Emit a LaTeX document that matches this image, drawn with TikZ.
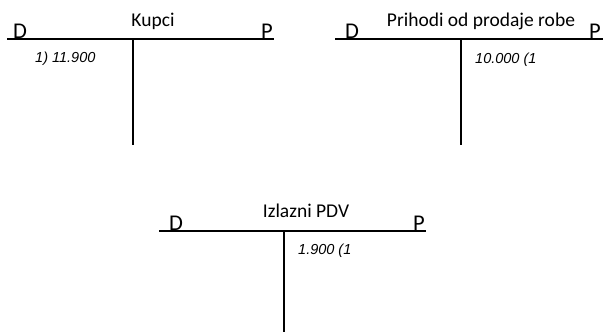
\documentclass[tikz,border=0pt]{standalone}
\usepackage{fontspec}
\setmainfont{Carlito}
\newfontfamily\numfont{Liberation Sans}
\usetikzlibrary{positioning}

\begin{document}
\begin{tikzpicture}[x=1pt,y=-1pt]
\tikzstyle{every node}+=[inner sep=0pt]
\tikzstyle{konto}=[black,line width=1.3pt]
\tikzstyle{naslov}=[font=\fontsize{19.5}{19.5}\selectfont,anchor=base]
\tikzstyle{strana}=[font=\fontsize{22.5}{22.5}\selectfont,anchor=base]
\tikzstyle{iznos}=[font=\numfont\itshape\fontsize{14.5}{14.5}\selectfont,anchor=base west]
\useasboundingbox (0,0) rectangle (603,332);
% Kupci
\coordinate (kupL) at (7,39);
\coordinate (kupR) at (274,39);
\coordinate (kupV) at (133,39);
\coordinate (kupB) at (133,145);
\draw [konto] (kupL) -- (kupR);
\draw [konto] (kupV) -- (kupB);
\node [naslov] (kupT) at (153,26) {Kupci};
\node [strana] (kupD) at (20,38) {D};
\node [strana] (kupP) at (267,38) {P};
\node [iznos] (kup1) at (35,62.5) {1) 11.900};
% Prihodi od prodaje robe
\coordinate (priL) at (335,39);
\coordinate (priR) at (603,39);
\coordinate (priV) at (461,39);
\coordinate (priB) at (461,145);
\draw [konto] (priL) -- (priR);
\draw [konto] (priV) -- (priB);
\node [naslov] (priT) at (481,26) {Prihodi od prodaje robe};
\node [strana] (priD) at (352,38) {D};
\node [strana] (priP) at (595,38) {P};
\node [iznos] (pri1) at (475,63) {10.000 (1};
% Izlazni PDV
\coordinate (pdvL) at (159,231);
\coordinate (pdvR) at (426,231);
\coordinate (pdvV) at (284,231);
\coordinate (pdvB) at (284,332);
\draw [konto] (pdvL) -- (pdvR);
\draw [konto] (pdvV) -- (pdvB);
\node [naslov] (pdvT) at (306,217) {Izlazni PDV};
\node [strana] (pdvD) at (176,230) {D};
\node [strana] (pdvP) at (419,230) {P};
\node [iznos] (pdv1) at (298,254) {1.900 (1};
\end{tikzpicture}
\end{document}
